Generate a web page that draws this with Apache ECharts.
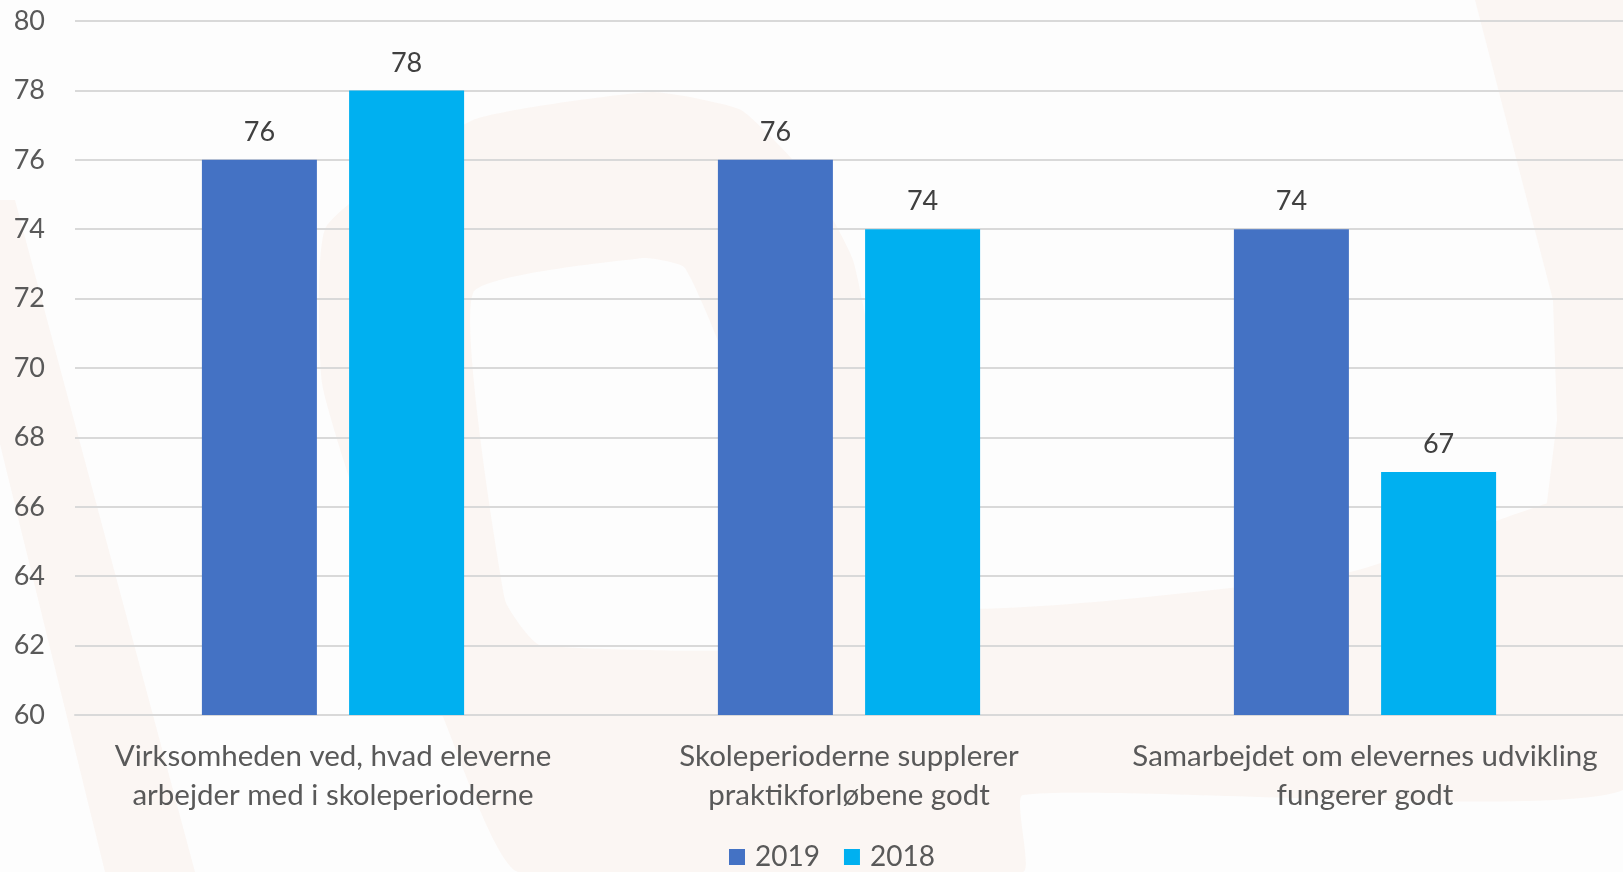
<!DOCTYPE html>
<html>
<head>
<meta charset="utf-8">
<script src="https://cdn.jsdelivr.net/npm/echarts@6/dist/echarts.min.js"></script>
<style>
  html, body { margin: 0; padding: 0; background: #fdfdfd; }
  #chart { width: 1623px; height: 872px; }
</style>
</head>
<body>
<div id="chart"></div>
<script>
  const categories = [
    'Virksomheden ved, hvad eleverne\narbejder med i skoleperioderne',
    'Skoleperioderne supplerer\npraktikforløbene godt',
    'Samarbejdet om elevernes udvikling\nfungerer godt'
  ]
  const values2019 = [76, 76, 74]
  const values2018 = [78, 74, 67]
  const yMin = 60
  const yMax = 80
  const yStep = 2

  const font = 'Lato'
  const bg = '#fdfdfd'
  const wm = '#fbf6f3'
  const chart = echarts.init(document.getElementById('chart'))

  const barLabel = {
    show: true,
    position: 'top',
    distance: 14,
    color: '#404040',
    fontSize: 27,
    fontFamily: font
  }

  // faint logo watermark behind the plot
  const watermark = [
    { type: 'polygon', z: -10, shape: { points: [[-60, 200], [15, 200], [195, 872], [105, 872]] }, style: { fill: wm } },
    { type: 'polygon', z: -10, shape: { points: [[1475, 0], [1623, 0], [1623, 600], [1540, 560], [1557, 420], [1553, 300]] }, style: { fill: wm } },
    {
      type: 'polygon', z: -10,
      shape: {
        smooth: 0.15,
        points: [[326, 227], [473, 120], [652, 92], [741, 110], [808, 177], [853, 260], [885, 420], [930, 605],
          [1350, 572], [1560, 500], [1623, 520], [1623, 790], [1023, 795], [1023, 872], [518, 872], [443, 717],
          [370, 540], [322, 383]]
      },
      style: { fill: wm }
    },
    {
      type: 'polygon', z: -9,
      shape: {
        smooth: 0.15,
        points: [[473, 293], [643, 258], [684, 267], [719, 343], [800, 560], [820, 645], [540, 645], [505, 600]]
      },
      style: { fill: bg }
    }
  ]

  chart.setOption({
    backgroundColor: bg,
    animation: false,
    graphic: watermark,
    grid: {
      left: 75,
      right: 0,
      top: 21,
      bottom: 157
    },
    legend: {
      left: 729,
      top: 843,
      padding: 0,
      itemWidth: 16,
      itemHeight: 16,
      itemGap: 24,
      icon: 'rect',
      textStyle: {
        color: '#595959',
        fontSize: 28,
        fontFamily: font,
        padding: [0, 0, 0, 5]
      },
      data: ['2019', '2018']
    },
    xAxis: {
      type: 'category',
      data: categories,
      axisLine: { lineStyle: { color: '#d9d9d9', width: 2 } },
      axisTick: { show: false },
      axisLabel: {
        interval: 0,
        color: '#595959',
        fontSize: 29.5,
        fontFamily: font,
        lineHeight: 39,
        margin: 22
      }
    },
    yAxis: {
      type: 'value',
      min: yMin,
      max: yMax,
      interval: yStep,
      axisLine: { show: false },
      axisTick: { show: false },
      axisLabel: {
        color: '#595959',
        fontSize: 27,
        fontFamily: font,
        margin: 30
      },
      splitLine: { lineStyle: { color: '#d9d9d9', width: 2 } }
    },
    series: [
      {
        name: '2019',
        type: 'bar',
        data: values2019,
        barWidth: 115,
        barGap: '28%',
        itemStyle: { color: '#4472c4' },
        label: barLabel
      },
      {
        name: '2018',
        type: 'bar',
        data: values2018,
        barWidth: 115,
        itemStyle: { color: '#00b0f0' },
        label: barLabel
      }
    ]
  })
</script>
</body>
</html>
